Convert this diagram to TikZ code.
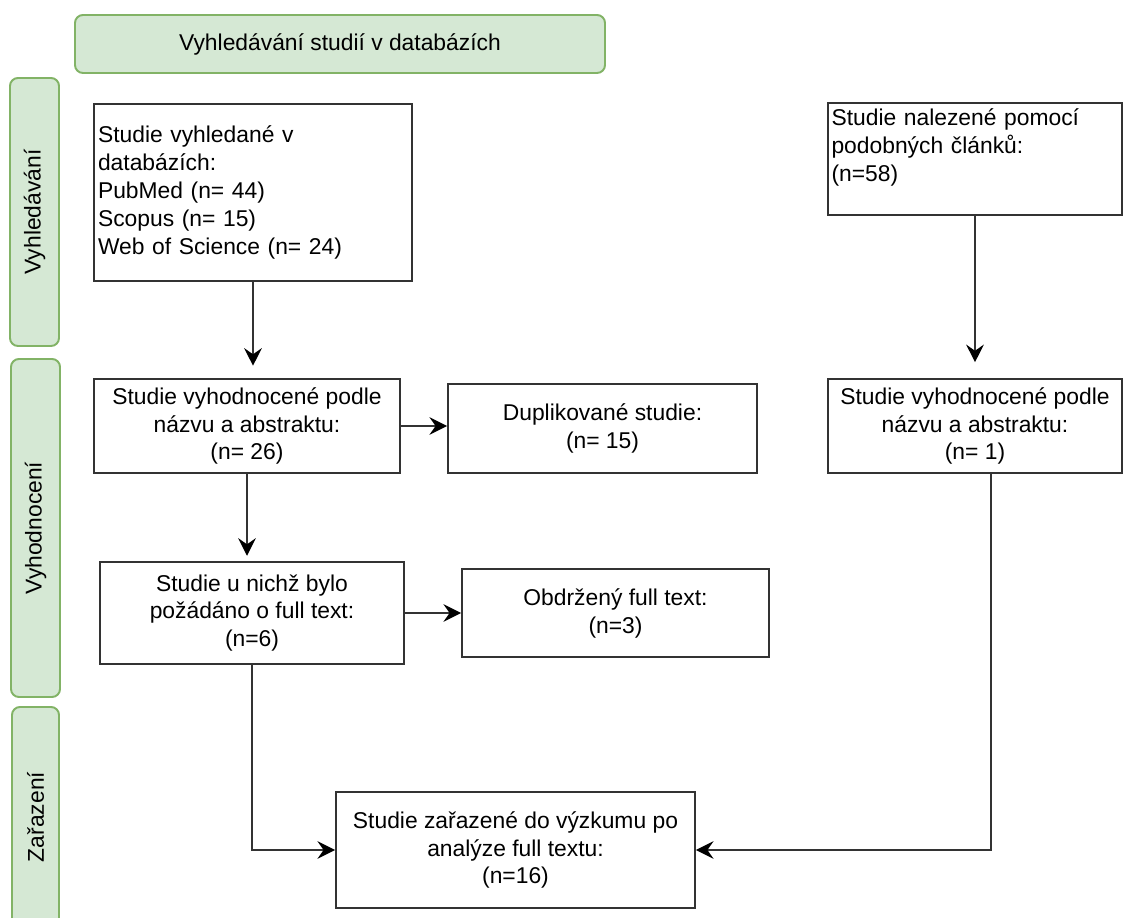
\documentclass[tikz,border=0pt]{standalone}
\usepackage{fontspec}
\setmainfont{Liberation Sans}
\usepackage{xcolor}
\usetikzlibrary{positioning,arrows.meta}
\definecolor{phasefill}{HTML}{D5E8D4}
\definecolor{phaseline}{HTML}{82B366}
\definecolor{boxline}{HTML}{333333}
\tikzset{
  studybox/.style={draw=boxline, line width=1.1pt, fill=white, align=center,
    inner sep=2pt, font=\fontsize{13}{15.9}\selectfont},
  leftbox/.style={align=left},
  phase/.style={draw=phaseline, line width=1.1pt, fill=phasefill,
    rounded corners=4.5pt, inner sep=2pt, font=\fontsize{13}{15.9}\selectfont},
  flow/.style={draw=boxline, line width=1.1pt,
    -{Stealth[length=10pt,width=10pt,inset=3.5pt,color=black]}}
}
% box from its corners (in px of the drawing)
\newcommand{\stbox}[7][]{
  \node[studybox, #1, minimum width={(#5-#3)*0.02cm}, minimum height={(#6-#4)*0.02cm}]
    (#2) at ({(#3+#5)/2},{(#4+#6)/2}) {#7};
}
% vertical phase label
\newcommand{\phasebox}[6]{
  \node[phase, rotate=90, minimum width={(#5-#3)*0.02cm}, minimum height={(#4-#2)*0.02cm}]
    (#1) at ({(#2+#4)/2},{(#3+#5)/2}) {#6};
}

\begin{document}
\begin{tikzpicture}[x=0.02cm, y=-0.02cm]
\useasboundingbox (0,0) rectangle (1130,918);
% phases
\node[phase, minimum width=530*0.02cm, minimum height=58*0.02cm] (search) at (340,44)
  {Vyhledávání studií v databázích};
\phasebox{ph1}{10}{78}{59}{346}{Vyhledávání}
\phasebox{ph2}{11}{359}{60}{697}{Vyhodnocení}
\phasebox{ph3}{12}{707}{59}{927}{Zařazení}

% studies
\stbox[leftbox, text width=6.2cm]{A}{94}{104}{412}{281}
  {Studie vyhledané v\\databázích:\\PubMed (n= 44)\\Scopus (n= 15)\\Web of Science (n= 24)}
\stbox[leftbox, text width=5.74cm]{B}{828}{103}{1122}{215}
  {Studie nalezené pomocí\\podobných článků:\\(n=58)\\~}
\stbox{C}{94}{379}{400}{473}{Studie vyhodnocené podle\\názvu a abstraktu:\\(n= 26)}
\stbox{D}{448}{384}{757}{473}{Duplikované studie:\\(n= 15)}
\stbox{E}{828}{379}{1122}{473}{Studie vyhodnocené podle\\názvu a abstraktu:\\(n= 1)}
\stbox{F}{100}{562}{404}{664}{Studie u nichž bylo\\požádáno o full text:\\(n=6)}
\stbox{G}{462}{569}{769}{657}{Obdržený full text:\\(n=3)}
\stbox{H}{336}{792}{695}{908}{Studie zařazené do výzkumu po\\analýze full textu:\\(n=16)}

\coordinate (Eout) at ([xshift=0.32cm]E.south);

\draw[flow, shorten >=7pt] (A.south) -- (A.south |- C.north);
\draw[flow, shorten >=9pt] (B) -- (E);
\draw[flow] (C.east) -- (C.east -| D.west);
\draw[flow, shorten >=3pt] (C.south) -- (C.south |- F.north);
\draw[flow] (F.east) -- (F.east -| G.west);
\draw[flow] (F.south) |- (H.west);
\draw[flow] (Eout) |- (H.east);
\end{tikzpicture}
\end{document}
